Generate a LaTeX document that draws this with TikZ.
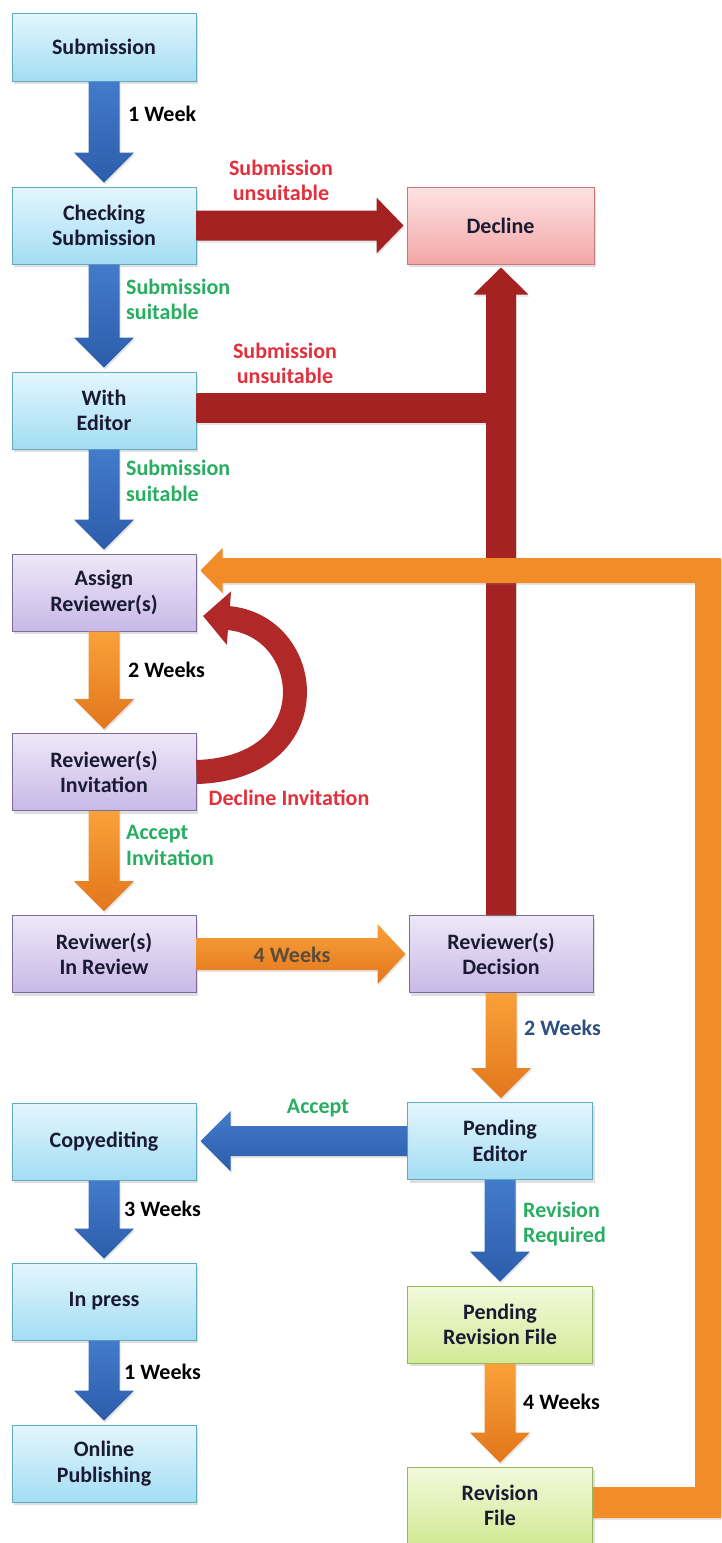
\documentclass[tikz,border=0pt]{standalone}
\usepackage{fontspec}
\setmainfont{Carlito}
\usetikzlibrary{calc,shadows,arrows.meta}
\definecolor{txt}{HTML}{1A1A33}
\definecolor{redlab}{HTML}{E2303C}
\definecolor{greenlab}{HTML}{27AE60}
\definecolor{navylab}{HTML}{2F4F7F}
\definecolor{graylab}{HTML}{5C4A3A}
\definecolor{bluetop}{HTML}{E3F6FD}\definecolor{bluebot}{HTML}{A3DDF3}\definecolor{blueline}{HTML}{62A9C2}
\definecolor{purtop}{HTML}{EEE8F8}\definecolor{purbot}{HTML}{C8B8E6}\definecolor{purline}{HTML}{7B6D9B}
\definecolor{pinktop}{HTML}{FDE3E3}\definecolor{pinkbot}{HTML}{F3A6A6}\definecolor{pinkline}{HTML}{C27A7A}
\definecolor{grntop}{HTML}{F3F9DC}\definecolor{grnbot}{HTML}{D2EA95}\definecolor{grnline}{HTML}{98B45E}
\definecolor{arblueA}{HTML}{437BCB}\definecolor{arblueB}{HTML}{2C5DAA}
\definecolor{arorA}{HTML}{F9A13A}\definecolor{arorB}{HTML}{E2761B}
\definecolor{arorange}{HTML}{F28C28}
\definecolor{arredA}{HTML}{A42222}\definecolor{arredB}{HTML}{D63C3C}
\definecolor{decred}{HTML}{B02828}
\newcommand\vfat[3]{\path[#3] let \p1=(#1.south), \p2=(#2.north) in
 (\x1-15.5pt,\y1) -- (\x1-15.5pt,\y2+34pt) -- (\x1-30pt,\y2+34pt) -- (\x1,\y2+4pt)
 -- (\x1+30pt,\y2+34pt) -- (\x1+15.5pt,\y2+34pt) -- (\x1+15.5pt,\y1) -- cycle;}
\begin{document}
\begin{tikzpicture}[x=1pt,y=-1pt,
  every node/.style={font=\fontsize{22}{25.5}\selectfont\bfseries},
  box/.style={line width=1pt, minimum width=184pt, minimum height=77pt, align=center,
     inner sep=2pt, text=txt, drop shadow={shadow xshift=2pt, shadow yshift=-3pt, opacity=0.25}},
  bluebox/.style={box, draw=blueline, top color=bluetop, bottom color=bluebot},
  purbox/.style={box, draw=purline, top color=purtop, bottom color=purbot},
  pinkbox/.style={box, draw=pinkline, top color=pinktop, bottom color=pinkbot},
  grnbox/.style={box, draw=grnline, top color=grntop, bottom color=grnbot},
  bluearrow/.style={top color=arblueA, bottom color=arblueB, drop shadow={shadow xshift=1pt, shadow yshift=-2pt, opacity=0.2}},
  orarrow/.style={top color=arorA, bottom color=arorB, drop shadow={shadow xshift=1pt, shadow yshift=-2pt, opacity=0.2}},
  lab/.style={inner sep=0pt, align=left},
  clab/.style={inner sep=0pt, align=center}]
\useasboundingbox (0,0) rectangle (721,1543);
\fill[white] (0,0) rectangle (721,1543);
% boxes
\node[bluebox, minimum height=68pt] (sub) at (104,47) {Submission};
\node[bluebox] (check) at (104,225.5) {Checking\\Submission};
\node[bluebox] (editor) at (104,410.5) {With\\Editor};
\node[purbox] (assign) at (104,592.5) {Assign\\Reviewer(s)};
\node[purbox] (invit) at (104,772) {Reviewer(s)\\Invitation};
\node[purbox] (inrev) at (104,954) {Reviwer(s)\\In Review};
\node[bluebox] (copy) at (104,1141.5) {Copyediting};
\node[bluebox] (press) at (104,1301.5) {In press};
\node[bluebox] (online) at (104,1463.5) {Online\\Publishing};
\node[pinkbox, minimum width=187pt] (decline) at (500.5,225.5) {Decline};
\node[purbox] (decision) at (501,954) {Reviewer(s)\\Decision};
\node[bluebox, minimum width=185pt] (pend) at (500,1141) {Pending\\Editor};
\node[grnbox, minimum width=185pt] (pendrev) at (500,1324.5) {Pending\\Revision File};
\node[grnbox, minimum width=185pt] (revfile) at (500,1505.5) {Revision\\File};
\coordinate (redge) at (721,0);
% vertical arrows
\vfat{sub}{check}{bluearrow}
\vfat{check}{editor}{bluearrow}
\vfat{editor}{assign}{bluearrow}
\vfat{assign}{invit}{orarrow}
\vfat{invit}{inrev}{orarrow}
\vfat{decision}{pend}{orarrow}
\vfat{copy}{press}{bluearrow}
\vfat{press}{online}{bluearrow}
\vfat{pend}{pendrev}{bluearrow}
\vfat{pendrev}{revfile}{orarrow}
% checking -> decline (red)
\path[top color=arredA, middle color=arredB, bottom color=arredA,
      drop shadow={shadow xshift=1pt, shadow yshift=-2pt, opacity=0.2}]
  let \p1=(check.east), \p2=(decline.west) in
  (\x1,\y1+15pt) -- (\x2-30pt,\y1+15pt) -- (\x2-30pt,\y1+28pt) -- (\x2-3pt,\y1)
  -- (\x2-30pt,\y1-28pt) -- (\x2-30pt,\y1-15pt) -- (\x1,\y1-15pt) -- cycle;
% editor -> red bar
\path[top color=arredA, middle color=arredB, bottom color=arredA,
      drop shadow={shadow xshift=1pt, shadow yshift=-2pt, opacity=0.2}]
  let \p1=(editor.east), \p2=(decision.north) in
  (\x1,\y1+17pt) rectangle (\x2,\y1-12pt);
% decision -> decline (red, up)
\path[left color=arredA, middle color=arredB, right color=arredA,
      drop shadow={shadow xshift=1pt, shadow yshift=-2pt, opacity=0.2}]
  let \p1=(decision.north), \p2=(decline.south) in
  (\x1-15pt,\y1) -- (\x1-15pt,\y2-30pt) -- (\x1-27.5pt,\y2-30pt) -- (\x1,\y2-3pt)
  -- (\x1+27.5pt,\y2-30pt) -- (\x1+15pt,\y2-30pt) -- (\x1+15pt,\y1) -- cycle;
% in review -> decision (orange)
\path[top color=arorA, bottom color=arorB,
      drop shadow={shadow xshift=1pt, shadow yshift=-2pt, opacity=0.2}]
  let \p1=(inrev.east), \p2=(decision.west) in
  (\x1,\y1+16pt) -- (\x2-31pt,\y1+16pt) -- (\x2-31pt,\y1+30pt) -- (\x2-3pt,\y1)
  -- (\x2-31pt,\y1-30pt) -- (\x2-31pt,\y1-16pt) -- (\x1,\y1-16pt) -- cycle;
% pending editor -> copyediting (blue, left)
\path[top color=arblueA, bottom color=arblueB,
      drop shadow={shadow xshift=1pt, shadow yshift=-2pt, opacity=0.2}]
  let \p1=(pend.west), \p2=(copy.east) in
  (\x1,\y1+15pt) -- (\x2+34pt,\y1+15pt) -- (\x2+34pt,\y1+30pt) -- (\x2+4pt,\y1)
  -- (\x2+34pt,\y1-30pt) -- (\x2+34pt,\y1-15pt) -- (\x1,\y1-15pt) -- cycle;
% revision file -> assign loop (orange)
\path[fill=arorange, drop shadow={shadow xshift=1pt, shadow yshift=-2pt, opacity=0.2}]
  let \p1=(revfile.east), \p2=(assign.east), \p3=(redge) in
  (\x2+26pt,\y2+34.5pt) -- (\x3,\y2+34.5pt) -- (\x3,\y1-12.5pt) -- (\x1,\y1-12.5pt)
  -- (\x1,\y1+18.5pt) -- (\x3-26pt,\y1+18.5pt) -- (\x3-26pt,\y2+9.5pt)
  -- (\x2+26pt,\y2+9.5pt) -- (\x2+26pt,\y2-0.5pt) -- (\x2+4pt,\y2+22pt)
  -- (\x2+26pt,\y2+44.5pt) -- cycle;
% decline invitation curved arrow
\draw[line width=24pt, draw=decred, -{Triangle[length=26pt,width=52pt]}]
  (invit.east) .. controls (330,768) and (315,625) .. (203,616);
% labels
\node[lab, anchor=west] (l1) at (128,114) {1 Week};
\node[clab, text=redlab] (l2) at (281,180.5) {Submission\\unsuitable};
\node[lab, anchor=west, text=greenlab] (l3) at (126,299.5) {Submission\\suitable};
\node[clab, text=redlab] (l4) at (285,363.5) {Submission\\unsuitable};
\node[lab, anchor=west, text=greenlab] (l5) at (126,481) {Submission\\suitable};
\node[lab, anchor=west] (l6) at (128,670) {2 Weeks};
\node[clab, text=redlab] (l7) at (289,798) {Decline Invitation};
\node[lab, anchor=west, text=greenlab] (l8) at (126,845.5) {Accept\\Invitation};
\node[clab, text=graylab] (l9) at (292,955) {4 Weeks};
\node[lab, anchor=west, text=navylab] (l10) at (524,1028) {2 Weeks};
\node[clab, text=greenlab] (l11) at (318,1108) {Accept};
\node[lab, anchor=west, text=greenlab] (l12) at (523,1224) {Revision\\Required};
\node[lab, anchor=west] (l13) at (124,1209) {3 Weeks};
\node[lab, anchor=west] (l14) at (124,1372) {1 Weeks};
\node[lab, anchor=west] (l15) at (523,1402) {4 Weeks};
\end{tikzpicture}
\end{document}
